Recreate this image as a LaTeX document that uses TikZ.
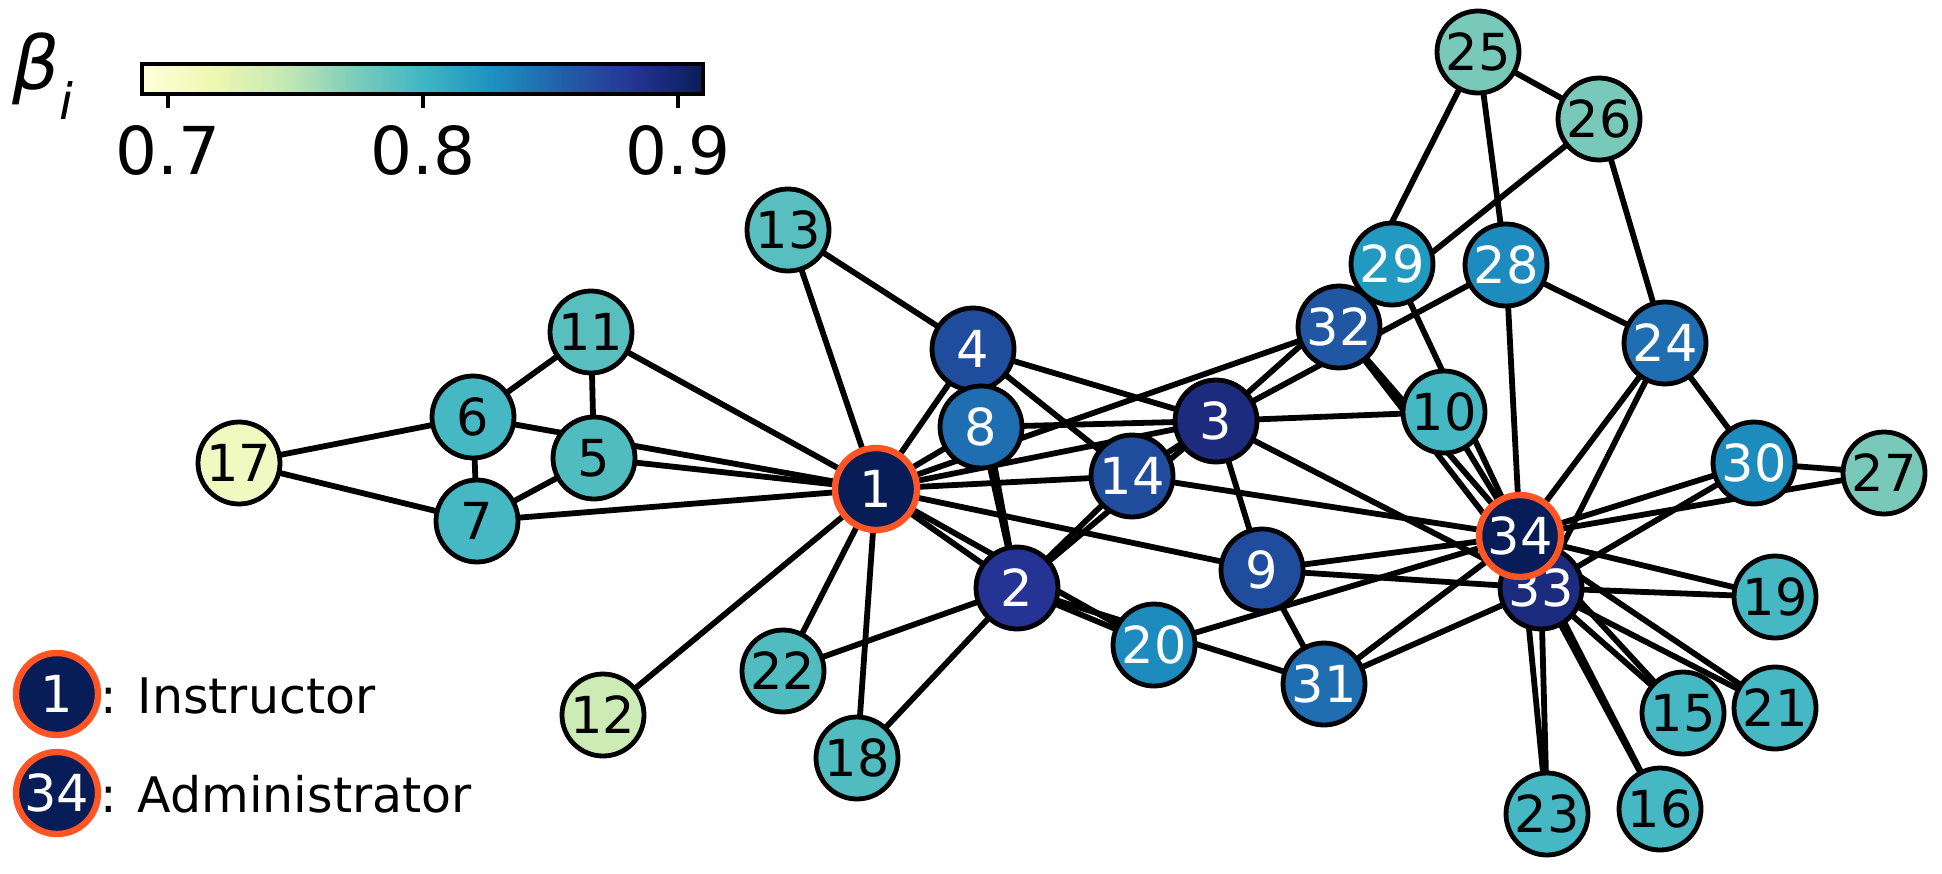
\documentclass[tikz,border=0pt]{standalone}
\usepackage{fontspec}
\setmainfont{DejaVu Sans}
\usetikzlibrary{backgrounds}
\definecolor{cA}{HTML}{081C58}
\definecolor{cB}{HTML}{253494}
\definecolor{cC}{HTML}{1C2B7E}
\definecolor{cD}{HTML}{1F4C9D}
\definecolor{cE}{HTML}{2156A2}
\definecolor{cF}{HTML}{1F6EB1}
\definecolor{cG}{HTML}{1D8BBE}
\definecolor{cH}{HTML}{2299C0}
\definecolor{cT}{HTML}{46B8C4}
\definecolor{cU}{HTML}{58BFBE}
\definecolor{cV}{HTML}{50BCC0}
\definecolor{cW}{HTML}{78C9BA}
\definecolor{cX}{HTML}{CDEBB4}
\definecolor{cY}{HTML}{F0F9BF}
\definecolor{ring}{HTML}{FF5525}
\definecolor{y1}{HTML}{FFFFD9}
\definecolor{y2}{HTML}{EDF8B1}
\definecolor{y3}{HTML}{C7E9B4}
\definecolor{y4}{HTML}{7FCDBB}
\definecolor{y5}{HTML}{41B6C4}
\definecolor{y6}{HTML}{1D91C0}
\definecolor{y7}{HTML}{225EA8}
\definecolor{y8}{HTML}{253494}
\definecolor{y9}{HTML}{081D58}
\tikzset{
  vtx/.style={circle, draw=black, line width=2.4pt, minimum size=41pt, inner sep=0pt,
    font=\fontsize{25.5}{26}\selectfont},
  dk/.style={vtx, text=white},
  lt/.style={vtx, text=black},
  hub/.style={vtx, text=white, draw=ring, line width=3.2pt, fill=cA},
  edge/.style={line width=2.9pt, black},
  ticklbl/.style={font=\fontsize{33}{33}\selectfont},
  legtxt/.style={font=\fontsize{24.5}{26}\selectfont, anchor=base west, inner sep=0pt}
}
\begin{document}
\begin{tikzpicture}[x=0.5pt,y=-0.5pt]
\useasboundingbox (0,0) rectangle (1942,873);
% colour bar
\foreach \i/\ca/\cb in {0/y1/y2,1/y2/y3,2/y3/y4,3/y4/y5,4/y5/y6,5/y6/y7,6/y7/y8,7/y8/y9}{
  \shade[left color=\ca, right color=\cb] ({142+70.125*\i},64) rectangle ({142+70.125*(\i+1)+0.5},94);
}
\draw[line width=2.4pt] (142,64) rectangle (703,94);
\foreach \x/\t in {168/0.7,423/0.8,678/0.9}{
  \draw[line width=2.4pt] (\x,94) -- (\x,108);
  \node[ticklbl] (tk\x) at (\x,150) {\t};
}
\node[font=\fontsize{37}{37}\selectfont\itshape, inner sep=0pt] (beta) at (43,76) {β\raisebox{-0.4em}{\fontsize{25}{25}\selectfont i}};
% nodes
\node[hub] (n1) at (876,489) {1};
\node[dk, fill=cB] (n2) at (1017,588) {2};
\node[dk, fill=cC] (n3) at (1216,421) {3};
\node[dk, fill=cD] (n4) at (973,349) {4};
\node[lt, fill=cV] (n5) at (594,458) {5};
\node[lt, fill=cT] (n6) at (473,417) {6};
\node[lt, fill=cT] (n7) at (477,521) {7};
\node[dk, fill=cF] (n8) at (981,427) {8};
\node[dk, fill=cD] (n9) at (1262,570) {9};
\node[lt, fill=cT] (n10) at (1444,412) {10};
\node[lt, fill=cU] (n11) at (591,332) {11};
\node[lt, fill=cX] (n12) at (603,715) {12};
\node[lt, fill=cU] (n13) at (788,230) {13};
\node[dk, fill=cD] (n14) at (1132,476) {14};
\node[lt, fill=cT] (n15) at (1683,713) {15};
\node[lt, fill=cT] (n16) at (1660,809) {16};
\node[lt, fill=cY] (n17) at (239,463) {17};
\node[lt, fill=cV] (n18) at (857,758) {18};
\node[lt, fill=cT] (n19) at (1775,597) {19};
\node[dk, fill=cG] (n20) at (1154,645) {20};
\node[lt, fill=cT] (n21) at (1775,708) {21};
\node[lt, fill=cV] (n22) at (783,671) {22};
\node[lt, fill=cT] (n23) at (1547,814) {23};
\node[dk, fill=cF] (n24) at (1665,343) {24};
\node[lt, fill=cW] (n25) at (1478,52) {25};
\node[lt, fill=cW] (n26) at (1599,119) {26};
\node[lt, fill=cW] (n27) at (1884,473) {27};
\node[dk, fill=cG] (n28) at (1506,265) {28};
\node[dk, fill=cH] (n29) at (1392,264) {29};
\node[dk, fill=cG] (n30) at (1754,463) {30};
\node[dk, fill=cF] (n31) at (1324,684) {31};
\node[dk, fill=cE] (n32) at (1339,327) {32};
\node[dk, fill=cC] (n33) at (1541,588) {33};
\node[hub] (n34) at (1520,536) {34};
% edges
\begin{scope}[on background layer]
\foreach \a/\b in {1/2,1/3,1/4,1/5,1/6,1/7,1/8,1/9,1/11,1/12,1/13,1/14,1/18,1/20,1/22,1/32,
  2/3,2/4,2/8,2/14,2/18,2/20,2/22,2/31,
  3/4,3/8,3/9,3/10,3/14,3/28,3/29,3/33,
  4/8,4/13,4/14,5/7,5/11,6/7,6/11,6/17,7/17,
  9/31,9/33,9/34,10/34,14/34,15/33,15/34,16/33,16/34,19/33,19/34,20/34,21/33,21/34,
  23/33,23/34,24/26,24/28,24/30,24/33,24/34,25/26,25/28,25/32,26/32,27/30,27/34,
  28/34,29/32,29/34,30/33,30/34,31/33,31/34,32/33,32/34,33/34}
  \draw[edge] (n\a.center) -- (n\b.center);
\end{scope}
% legend
\node[hub] (l1) at (57,694) {1};
\node[hub] (l34) at (57,793) {34};
\node[legtxt] (t1) at (100,713) {: Instructor};
\node[legtxt] (t34) at (100,812) {: Administrator};
\end{tikzpicture}
\end{document}
